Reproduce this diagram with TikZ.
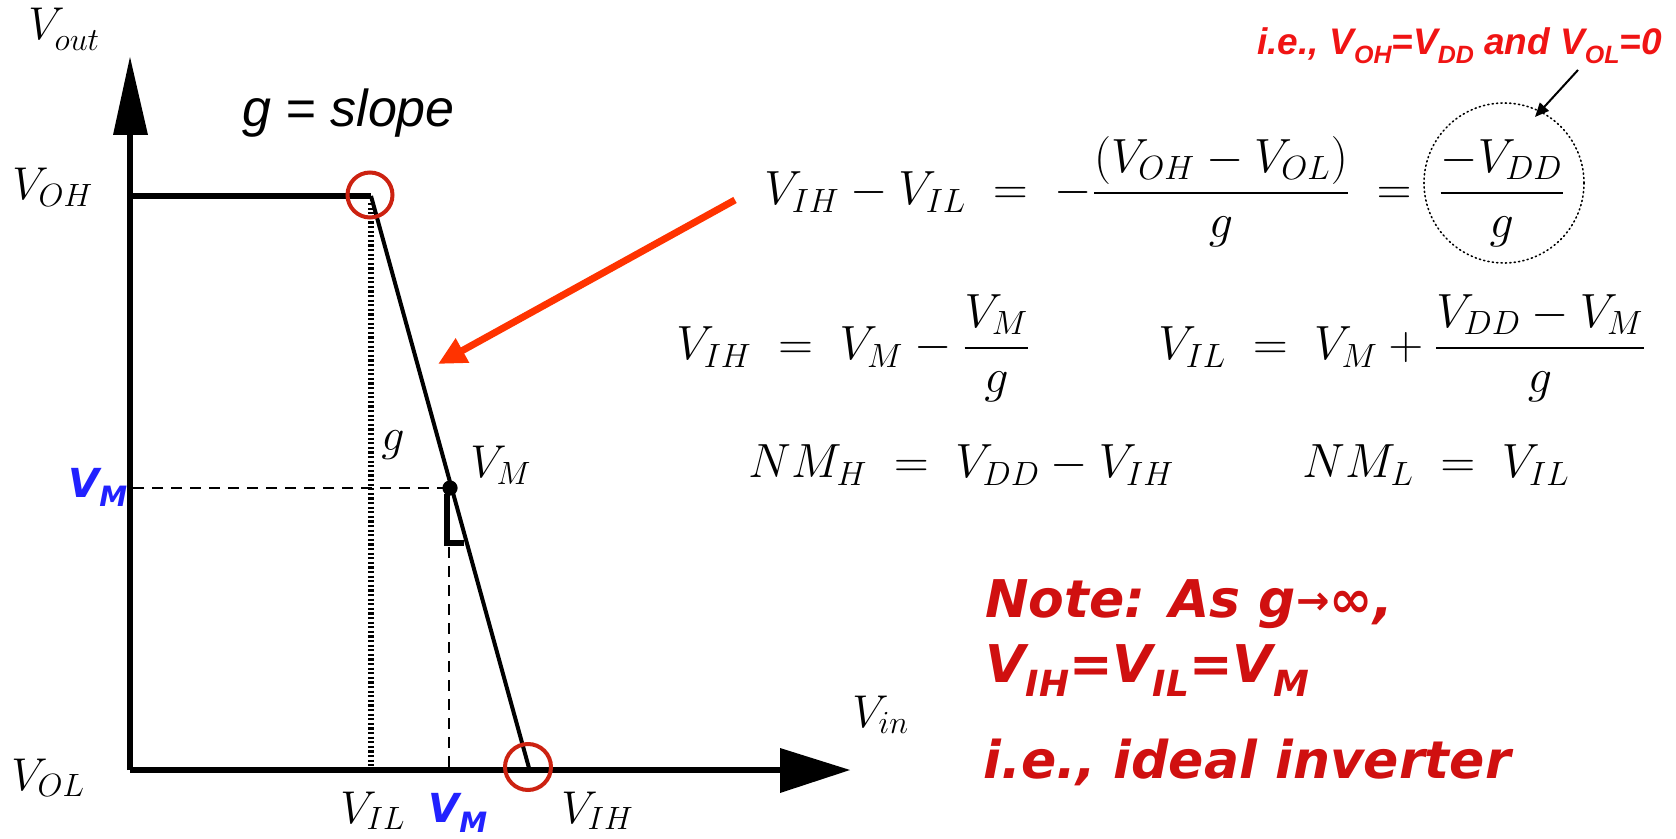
\RequirePackage{fix-cm}
\documentclass[tikz,border=0pt]{standalone}
\usepackage{amsmath}
\usepackage{fontspec}
\usetikzlibrary{arrows.meta}
\newfontfamily\arialf{Liberation Sans}
\newfontfamily\verdf{DejaVu Sans}
\definecolor{circred}{RGB}{204,34,17}
\definecolor{arrred}{RGB}{255,51,0}
\definecolor{notered}{RGB}{208,16,16}
\definecolor{topred}{RGB}{240,20,20}
\definecolor{vmblue}{RGB}{34,34,255}
\newcommand{\lsub}[3]{\raisebox{-#1}{\fontsize{#2}{#2}\selectfont #3}}
\tikzset{
  axisline/.style={line width=3pt},
  curveline/.style={line width=2pt},
  redcirc/.style={draw=circred,line width=2pt},
  dotline/.style={line width=3pt,dash pattern=on 1.15pt off 1.15pt},
  dashline/.style={line width=1.2pt,dash pattern=on 5.5pt off 4pt},
  lbl/.style={anchor=base west,inner sep=0pt,font=\fontsize{23}{26}\selectfont},
  eqn/.style={anchor=base west,inner sep=0pt,font=\fontsize{24}{28}\selectfont},
  bluelbl/.style={anchor=base west,inner sep=0pt,text=vmblue,font=\verdf\bfseries\itshape\fontsize{20}{24}\selectfont},
  note/.style={anchor=base west,inner sep=0pt,text=notered,font=\verdf\bfseries\itshape\fontsize{26}{30}\selectfont},
}
\begin{document}
\begin{tikzpicture}[x=0.5pt,y=-0.5pt]
\useasboundingbox (0,0) rectangle (1676,839);
% axes
\coordinate (O) at (130,770);
\coordinate (ytop) at (130,134);
\coordinate (xend) at (780,770);
\draw[axisline] (O) -- (ytop);
\draw[axisline] (O) -- (xend);
\fill (113,135) -- (130,57) -- (148,135) -- cycle;
\fill (780,748) -- (850,770) -- (780,793) -- cycle;
% transfer curve
\coordinate (A) at (130,196);
\coordinate (B) at (371,196);
\coordinate (C) at (529,768);
\draw[axisline] (A) -- (B);
\draw[curveline] (B) -- (C);
% guide lines
\coordinate (VILt) at (371,203);
\coordinate (VILb) at (371,768);
\draw[dotline] (VILt) -- (VILb);
\coordinate (M) at (450,488);
\coordinate (Ml) at (133,488);
\draw[dashline] (Ml) -- (M);
\coordinate (Mt) at (449,547);
\coordinate (Mb) at (449,768);
\draw[dashline] (Mt) -- (Mb);
\fill (M) circle (3.8pt);
\draw[line width=2.6pt] (447,494) -- (447,543) -- (464,543);
% red circles
\draw[redcirc] (370,195) circle (11.25pt);
\draw[redcirc] (528,767) circle (11.5pt);
% red arrow
\coordinate (ra1) at (735,200);
\coordinate (ra2) at (438,364);
\draw[arrred,line width=3.5pt,-{Triangle[length=14pt,width=13pt]}] (ra1) -- (ra2);
% dotted circle and black arrow
\coordinate (dc) at (1504,183);
\draw[line width=0.8pt,dash pattern=on 0.6pt off 1.6pt,line cap=round] (dc) circle (40pt);
\coordinate (ba1) at (1578,70);
\coordinate (ba2) at (1535,117);
\draw[line width=1pt,-{Triangle[length=7pt,width=6pt]}] (ba1) -- (ba2);
% axis labels
\node[lbl] (vout) at (28,40) {$V_{\lower2pt\hbox{$\scriptstyle out$}}$};
\node[lbl] (voh) at (12,200) {$V_{OH}$};
\node[lbl] (vol) at (11,790) {$V_{OL}$};
\node[lbl] (vil) at (340,823) {$V_{IL}$};
\node[lbl] (vih) at (561,823) {$V_{IH}$};
\node[lbl] (vin) at (852,727) {$V_{in}$};
\node[lbl] (vmr) at (470,478) {$V_M$};
\node[lbl] (gl) at (381,451) {$g$};
\node[bluelbl] (vmb) at (428,822) {V\lsub{5pt}{14}{M}};
\node[bluelbl] (vml) at (68,497) {V\lsub{5pt}{14}{M}};
\node[anchor=base west,inner sep=0pt,font=\arialf\itshape\fontsize{26}{30}\selectfont] (gs) at (242,127) {g = slope};
% top red note
\node[anchor=base west,inner sep=0pt,text=topred,font=\arialf\bfseries\itshape\fontsize{18.5}{22}\selectfont] (ie) at (1257,55) {i.e., V\lsub{4.5pt}{12.5}{OH}=V\lsub{4.5pt}{12.5}{DD} and V\lsub{4.5pt}{12.5}{OL}=0};
% equations
\node[eqn] (eq1) at (764,205) {$V_{IH}-V_{IL} \;=\; -\dfrac{(V_{OH}-V_{OL})}{g} \;=\; \dfrac{-V_{DD}}{g}$};
\node[eqn] (eq2a) at (676,360) {$V_{IH} \;=\; V_M-\dfrac{V_M}{g}$};
\node[eqn] (eq2b) at (1158,360) {$V_{IL} \;=\; V_M+\dfrac{V_{DD}-V_M}{g}$};
\node[eqn] (eq3a) at (748,478) {$NM_H \;=\; V_{DD}-V_{IH}$};
\node[eqn] (eq3b) at (1302,478) {$NM_L \;=\; V_{IL}$};
% big note
\node[note] (n1) at (985,617) {Note: As g\raisebox{1.5pt}{\fontsize{20}{20}\selectfont →}∞,};
\node[note] (n2) at (985,682) {V\lsub{7pt}{18}{IH}=V\lsub{7pt}{18}{IL}=V\lsub{7pt}{18}{M}};
\node[note] (n3) at (983,778) {i.e., ideal inverter};
\end{tikzpicture}
\end{document}
